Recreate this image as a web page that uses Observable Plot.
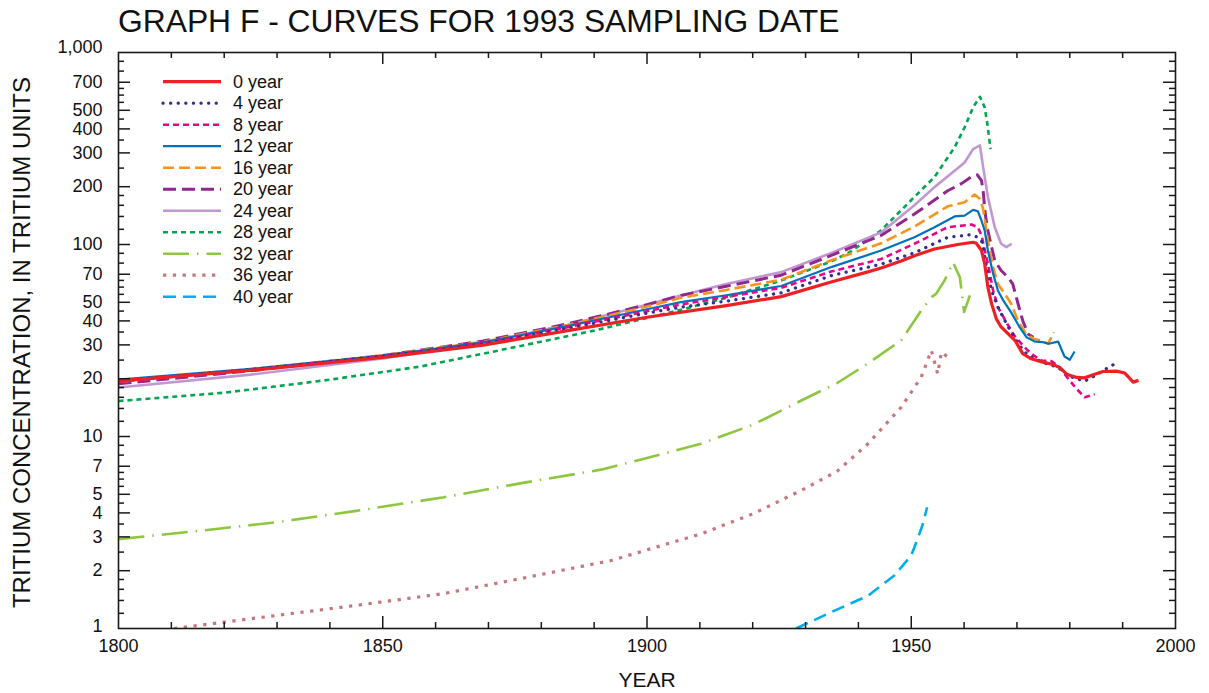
<!DOCTYPE html>
<html><head><meta charset="utf-8">
<script src="https://cdn.jsdelivr.net/npm/d3@7"></script>
<script src="https://cdn.jsdelivr.net/npm/@observablehq/plot@0.6"></script>
<style>
body{margin:0;background:#fff;font-family:"Liberation Sans",Arial,Helvetica,sans-serif;}
#wrap{position:relative;width:1209px;height:693px;overflow:hidden;}
#title{position:relative;height:36px;}
#title span{position:absolute;left:118px;top:6px;font-size:31.8px;line-height:31.8px;color:#111;white-space:nowrap;}
#legend{position:absolute;left:0;top:0;}
#chart svg{display:block;}
</style></head><body>
<div id="wrap"><div id="title"><span>GRAPH F - CURVES FOR 1993 SAMPLING DATE</span></div><div id="chart"></div><svg id="legend" width="420" height="320"></svg></div>
<script>
// ---- data (recharge year, tritium units) ----
const labels = ["0 year","4 year","8 year","12 year","16 year","20 year","24 year","28 year","32 year","36 year","40 year"];

const year0 = [1800,1825,1850,1869,1885,1900,1915,1925.4,1935,1941.8,1944.3,1948.1,1950.6,1954.4,1958.8,1961.7,1962.3,1963.3,1963.9,1964.5,1965.2,1966.1,1967,1968.3,1969.6,1971.1,1972.7,1974.9,1976.8,1978.1,1979.4,1981.3,1982.8,1984.7,1986.3,1988.8,1990.4,1992,1993];
const tu0   = [19.5,22.1,25.8,29.9,35.6,41.8,48,53.5,64,72,75.5,82,87.4,94.8,100,102.7,101.5,93,79.2,59.9,49.2,41,37.2,34.3,31.7,27,25.4,24.4,23.7,22.9,21.1,20.3,20.2,21.1,21.8,21.9,21.4,19.2,19.6];

const year4 = [1800,1825,1850,1869,1885,1900,1906.4,1915,1925.4,1935,1944.3,1950.6,1956.9,1961.4,1962.6,1963.3,1963.6,1964.4,1965.2,1966.4,1967.7,1968.9,1970.5,1972.1,1975.3,1977.8,1979.7,1982.8,1984.7,1987.2,1989.1];
const tu4   = [19.5,22.3,26.2,30.3,36.6,43.9,47.2,50.7,56,69,79,90.5,109,112.5,109,104,96.8,72,57.6,47.2,40.2,35,29.8,26.4,24.1,22.9,20.7,19.4,20.7,22.8,24.4];

const year8 = [1800,1825,1850,1869,1885,1900,1906.4,1915,1925.4,1935,1944.3,1950.6,1956.9,1961.4,1962.6,1963.3,1964.5,1965.5,1966.4,1968,1969.5,1971.1,1972.7,1974.6,1976.5,1978.1,1979.7,1981.3,1982.8,1984.7];
const tu8   = [19.3,22.2,26.2,30.6,37.1,44.9,48.7,53.3,59.5,72.5,84,100.9,123,127,123,111.4,79.3,57.6,47.2,39.3,33.5,29.8,27,24.9,24.7,22.9,20,17.7,16,16.6];

const year12 = [1800,1825,1850,1869,1885,1900,1906.4,1915,1925.4,1935,1944.3,1950.6,1954.4,1958.2,1960.1,1961.7,1962.6,1963.3,1963.9,1964.5,1965.5,1966.4,1967.4,1968.9,1970.5,1971.8,1973.4,1974.9,1976,1977.8,1979,1980,1980.9];
const tu12   = [19.8,22.5,26.4,30.9,37.6,46,50.1,54.4,60.8,76.5,93,109,123,140,141.5,151.5,149,133,118,93,70.3,57.6,51.1,44.3,37.1,32.9,31.2,31,30.4,31.2,26.1,25.1,27.7];

const year16 = [1800,1825,1850,1869,1885,1900,1906.4,1915,1925.4,1935,1944.3,1950.6,1956.9,1960.1,1962,1963,1963.6,1964.5,1965.5,1966.4,1967.7,1968.9,1970.2,1971.5,1973.1,1974.6,1975.9,1977];
const tu16   = [19.3,22.4,26.5,31.1,38.1,47.5,52.8,58,65.5,83,101.5,124,158,166,182,172.5,153.5,104.8,76,62.3,55.3,49.1,40.1,34.9,32.3,31.6,30.4,34.9];

const year20 = [1800,1825,1850,1869,1885,1900,1906.4,1915,1925.4,1935,1944.3,1950.6,1956.9,1959.5,1961.7,1962.5,1963.3,1963.6,1964,1964.5,1965.2,1965.8,1967,1968.3,1969.2,1970.2,1971.1,1972.1,1973.1];
const tu20   = [18.8,22,26.4,31.4,38.6,48.6,54.3,60.6,69.2,88,111.5,144,190.5,207.5,228.5,230.5,214.8,190.5,144,118,96.8,82.5,73.2,67.5,62.4,49.2,40.1,34.2,32.9];

const year24 = [1800,1825,1850,1869,1885,1900,1906.4,1915,1925.4,1935,1944.3,1950.6,1954.4,1958.2,1960.1,1961.7,1963,1963.6,1964.5,1965.8,1967,1968,1969];
const tu24   = [18,21,25.5,30.7,38.1,48.6,54.3,62.2,71.8,90.6,115.6,160,199,242,267.5,314,328,253,177,123,100.9,96.8,100.9];

const year28 = [1800,1820,1839,1857,1875,1890,1906.4,1915,1925.4,1935,1938.6,1944.3,1950.6,1954.4,1958.2,1960.1,1961.7,1963,1963.9,1964.4,1965];
const tu28   = [15.3,16.9,19.6,23.1,29.2,35.6,45.7,52.8,64.9,82,92,118.5,177,224.5,320.5,407.5,518,588,518,424.5,314];

const year32 = [1800,1815,1830,1845,1861.6,1876,1891.3,1900,1910.2,1920,1929.2,1936,1941.8,1948.1,1951.9,1953.8,1954.7,1956.3,1957.9,1959.2,1959.6,1960,1961.1];
const tu32   = [2.92,3.22,3.58,4.1,4.83,5.7,6.72,7.72,9.16,11.5,15.4,19,24,31.7,45.3,53.1,55.3,64.9,80.8,67.5,55,44.5,54.3];

const year36 = [1810.5,1830,1845,1861.6,1877.4,1893.2,1910.2,1920,1929.2,1936,1941.8,1948.1,1951.9,1953.8,1955,1955.7,1957.3];
const tu36   = [1,1.17,1.32,1.52,1.85,2.26,3.11,3.95,5.24,6.6,9.16,14.2,20.4,28.1,21.2,27.5,25.4];

const year40 = [1928.2,1935.5,1941.8,1946.8,1950,1951.3,1952.2,1953];
const tu40   = [1,1.24,1.48,1.89,2.4,2.98,3.5,4.28];

const xTickLabels = [1800,1850,1900,1950,2000];
const yTickLabels = [1,2,3,4,5,7,10,20,30,40,50,70,100,200,300,400,500,700,1000];
const yMinorSteps = [1,1.2,1.4,1.6,1.8,2,2.5,3,3.5,4,4.5,5,5.5,6,6.5,7,8,9];

// ---- styles ----
const styles = [
  {stroke:"#ed2024", w:3.2, dash:null, cap:"butt"},
  {stroke:"#2e3192", w:3.3, dash:"0.1,7.5", cap:"round"},
  {stroke:"#ec008c", w:2.6, dash:"6,4", cap:"butt"},
  {stroke:"#0072bc", w:2.2, dash:null, cap:"butt"},
  {stroke:"#f7941d", w:2.6, dash:"11,5", cap:"butt"},
  {stroke:"#92278f", w:3.0, dash:"13,6", cap:"butt"},
  {stroke:"#c197d2", w:2.6, dash:null, cap:"butt"},
  {stroke:"#00a651", w:2.6, dash:"5,4", cap:"butt"},
  {stroke:"#8dc63f", w:2.6, dash:"26,8,1.5,8", cap:"butt"},
  {stroke:"#c8777f", w:3.2, dash:"3.3,6.5", cap:"butt"},
  {stroke:"#00aeef", w:2.6, dash:"13,7", cap:"butt"}
];

const yearsList = [year0,year4,year8,year12,year16,year20,year24,year28,year32,year36,year40];
const tuList = [tu0,tu4,tu8,tu12,tu16,tu20,tu24,tu28,tu32,tu36,tu40];
const series = labels.map((label,i) => yearsList[i].map((y,j) => ({year:y, tu:tuList[i][j], label})));

// ---- geometry ----
const W = 1209, H = 657, mL = 118, mR = 34, mT = 16, mB = 65;
const plotW = W - mL - mR, plotH = H - mT - mB;
const longT = 12, shortT = 6;
const font = "Liberation Sans, Arial, Helvetica, sans-serif";

const xMinor = d3.range(1810, 2000, 10).filter(d => d % 50 !== 0);
const xMajor = xTickLabels.filter(d => d > 1800 && d < 2000);
const yAll = [];
[1,10,100].forEach(k => yMinorSteps.forEach(s => yAll.push(+(s*k).toFixed(3))));
const yMinor = yAll.filter(v => !yTickLabels.includes(v));
const yMajor = yTickLabels.filter(v => v > 1 && v < 1000);
const yInner = yTickLabels.filter(v => v > 1 && v < 1000);

const tickStyle = {stroke:"#1a1a1a", strokeWidth:1.5};
const lineMarks = [];
for (let i = series.length - 1; i >= 0; i--) {
  const s = styles[i];
  lineMarks.push(Plot.line(series[i], {x:"year", y:"tu", stroke:s.stroke, strokeWidth:s.w,
    strokeDasharray:s.dash, strokeLinecap:s.cap, strokeLinejoin:"round", clip:true}));
}
const yLab = {text:d3.format(","), frameAnchor:"left", textAnchor:"end", dx:-16, fontSize:18, fill:"#111"};

const chart = Plot.plot({
  width: W, height: H, marginLeft: mL, marginRight: mR, marginTop: mT, marginBottom: mB,
  style: {fontFamily:font, fontSize:"18px", background:"#fff", color:"#111", overflow:"visible"},
  x: {domain:[1800,2000], axis:null},
  y: {type:"log", domain:[1,1000], axis:null},
  marks: [
    ...lineMarks,
    Plot.tickX(xMinor, {x:d=>d, insetTop:plotH-shortT, ...tickStyle}),
    Plot.tickX(xMajor, {x:d=>d, insetTop:plotH-longT, ...tickStyle}),
    Plot.tickX(xMinor, {x:d=>d, insetBottom:plotH-shortT, ...tickStyle}),
    Plot.tickX(xMajor, {x:d=>d, insetBottom:plotH-longT, ...tickStyle}),
    Plot.tickY(yMinor, {y:d=>d, insetRight:plotW-shortT, ...tickStyle}),
    Plot.tickY(yMajor, {y:d=>d, insetRight:plotW-longT, ...tickStyle}),
    Plot.tickY(yMinor, {y:d=>d, insetLeft:plotW-shortT, ...tickStyle}),
    Plot.tickY(yMajor, {y:d=>d, insetLeft:plotW-longT, ...tickStyle}),
    Plot.frame({stroke:"#1a1a1a", strokeWidth:1.6}),
    Plot.text(yInner, {y:d=>d, ...yLab}),
    Plot.text([1000], {y:d=>d, ...yLab, dy:-5}),
    Plot.text([1], {y:d=>d, ...yLab, dy:-2}),
    Plot.text(xTickLabels, {x:d=>d, text:d=>String(d), frameAnchor:"bottom", textAnchor:"middle", dy:23, fontSize:18, fill:"#111"}),
    Plot.text(["TRITIUM CONCENTRATION, IN TRITIUM UNITS"], {text:d=>d, frameAnchor:"left", textAnchor:"middle", dx:-96, dy:2, rotate:-90, fontSize:24, fill:"#111"}),
    Plot.text(["YEAR"], {text:d=>d, frameAnchor:"bottom", textAnchor:"middle", dy:58, fontSize:21, fill:"#111"})
  ]
});
document.getElementById("chart").appendChild(chart);

// ---- legend (line-style key) ----
const leg = d3.select("#legend");
const rowY = i => 81.7 + i * 21.5;
labels.forEach((lab, i) => {
  const s = styles[i];
  leg.append("line").attr("x1", 163).attr("x2", 221).attr("y1", rowY(i)).attr("y2", rowY(i))
    .attr("stroke", s.stroke).attr("stroke-width", s.w)
    .attr("stroke-dasharray", s.dash).attr("stroke-linecap", s.cap);
  leg.append("text").attr("x", 233).attr("y", rowY(i)).attr("dominant-baseline", "central")
    .attr("font-size", 18).attr("fill", "#111")
    .attr("font-family", font).text(lab);
});
</script>
</body></html>
